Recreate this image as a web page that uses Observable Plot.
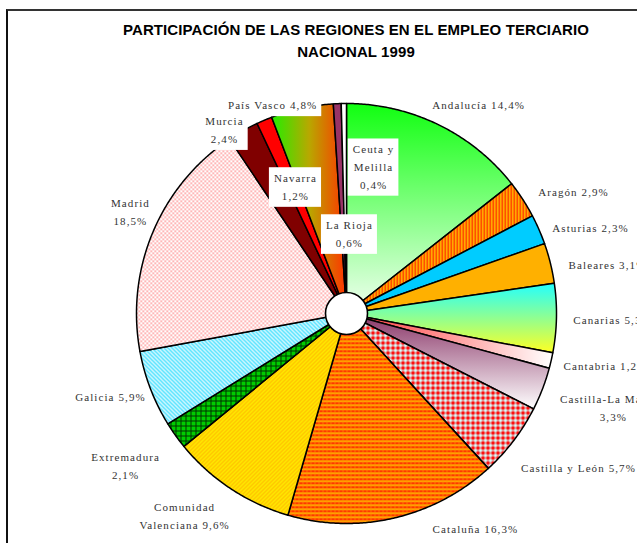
<!DOCTYPE html>
<html><head><meta charset="utf-8">
<script src="https://cdn.jsdelivr.net/npm/d3@7"></script>
<script src="https://cdn.jsdelivr.net/npm/@observablehq/plot@0.6"></script>
<style>
body{margin:0;background:#fff;}
#wrap{position:relative;width:637px;height:543px;overflow:hidden;background:#fff;}
#frame{position:absolute;left:6px;top:9px;width:640px;height:600px;border-top:2px solid #333;border-left:2px solid #111;}
#chart{position:absolute;left:0;top:0;}
#title{position:absolute;left:0;top:19px;width:712px;text-align:center;font:bold 15px "Liberation Sans",Arial,sans-serif;letter-spacing:0.1px;line-height:22px;color:#000;}
#chart svg text{letter-spacing:1.1px;}
</style></head>
<body>
<div id="wrap"><div id="frame"></div><div id="chart"></div>
<div id="title">PARTICIPACIÓN DE LAS REGIONES EN EL EMPLEO TERCIARIO<br>NACIONAL 1999</div></div>
<script>
// ---- data ----
const regions = ["Andalucía","Aragón","Asturias","Baleares","Canarias","Cantabria","Castilla-La Mancha","Castilla y León","Cataluña","Comunidad Valenciana","Extremadura","Galicia","Madrid","Murcia","Navarra","País Vasco","La Rioja","Ceuta y Melilla"];
const shares = [14.4,2.9,2.3,3.1,5.3,1.2,3.3,5.7,16.3,9.6,2.1,5.9,18.5,2.4,1.2,4.8,0.6,0.4];
const labelNames = ["Andalucía","Aragón","Asturias","Baleares","Canarias","Cantabria","Castilla-La Mancha","Castilla y León","Cataluña","Comunidad\nValenciana","Extremadura","Galicia","Madrid","Murcia","Navarra","País Vasco","La Rioja","Ceuta y\nMelilla"];

// ---- layout (label anchors in pie-radius units, line break mode, white box) ----
const labelPos = [[0.629,1.0],[1.081,0.586],[1.162,0.414],[1.243,0.238],[1.267,-0.024],[1.233,-0.243],[1.271,-0.443],[1.105,-0.729],[0.614,-1.019],[-0.771,-0.957],[-1.052,-0.719],[-1.124,-0.390],[-1.029,0.490],[-0.581,0.881],[-0.243,0.610],[-0.352,1.0],[0.014,0.386],[0.129,0.705]];
const labelSep = [" "," "," "," "," "," ","\n"," "," "," ","\n"," ","\n","\n","\n"," ","\n","\n"];
const boxed = new Set([13,14,15,16,17]);
const fills = ["url(#g0)","url(#p1)","#00ccff","url(#p3)","url(#g4)","url(#g5)","url(#g6)","url(#p7)","url(#p8)","url(#p9)","url(#p10)","url(#p11)","url(#p12)","#800000","#ff0000","url(#g15)","#993366","#ffffff"];

const fmt = v => v.toFixed(1).replace(".", ",") + "%";
const pie = d3.pie().sort(null).value(d => d)(shares);
const slicePts = [];
pie.forEach((s, i) => {
  const n = Math.max(4, Math.ceil((s.endAngle - s.startAngle) / 0.008));
  slicePts.push({i, x: 0, y: 0});
  for (let k = 0; k <= n; k++) {
    const a = s.startAngle + (s.endAngle - s.startAngle) * k / n;
    slicePts.push({i, x: Math.sin(a), y: Math.cos(a)});
  }
  slicePts.push({i, x: 0, y: 0});
});
const labels = regions.map((r, i) => ({
  text: labelNames[i] + labelSep[i] + fmt(shares[i]),
  x: labelPos[i][0], y: labelPos[i][1], boxed: boxed.has(i)
}));
const textOpts = {x: "x", y: "y", text: "text", fontFamily: "Liberation Serif", fontSize: 11, fill: "#333", lineHeight: 1.6};

const svg = Plot.plot({
  width: 637, height: 543,
  marginTop: 0, marginRight: 0, marginBottom: 0, marginLeft: 0,
  x: {domain: [-1, 1], range: [136, 556], axis: null},
  y: {domain: [-1, 1], range: [523, 103], axis: null},
  marks: [
    ...regions.map((r, i) => Plot.line(slicePts.filter(p => p.i === i), {x: "x", y: "y", fill: fills[i], stroke: "#000", strokeWidth: 1.5, strokeLinejoin: "round"})),
    Plot.dot([{x: 0, y: 0}], {x: "x", y: "y", r: 21, fill: "#fff", stroke: "#000", strokeWidth: 1.6}),
    Plot.text(labels.filter(d => !d.boxed), textOpts),
    Plot.text(labels.filter(d => d.boxed), textOpts)
  ]
});
svg.style.background = "transparent";
document.getElementById("chart").appendChild(svg);

// ---- fills: gradients & patterns ----
const ns = "http://www.w3.org/2000/svg";
const defs = document.createElementNS(ns, "defs");
defs.innerHTML = `
<linearGradient id="g0" x1="0" y1="0" x2="0" y2="1"><stop offset="0" stop-color="#11ff11"/><stop offset="1" stop-color="#f2fff2"/></linearGradient>
<linearGradient id="g4" x1="0" y1="0" x2="0" y2="1"><stop offset="0" stop-color="#22ffff"/><stop offset="1" stop-color="#ffff22"/></linearGradient>
<linearGradient id="g5" x1="0" y1="0" x2="1" y2="0"><stop offset="0" stop-color="#ff3333"/><stop offset="1" stop-color="#ffffff"/></linearGradient>
<linearGradient id="g6" x1="0" y1="0" x2="0" y2="1"><stop offset="0" stop-color="#883366"/><stop offset="1" stop-color="#ffffff"/></linearGradient>
<linearGradient id="g15" x1="0" y1="0" x2="1" y2="0"><stop offset="0" stop-color="#22ee00"/><stop offset="0.5" stop-color="#b8a800"/><stop offset="1" stop-color="#ff3300"/></linearGradient>
<pattern id="p1" width="3" height="3" patternUnits="userSpaceOnUse"><rect width="3" height="3" fill="#ffd700"/><rect width="1.5" height="3" fill="#ff2200"/></pattern>
<pattern id="p3" width="2" height="2" patternUnits="userSpaceOnUse"><rect width="2" height="2" fill="#ffd000"/><rect width="1" height="1" fill="#ff9000"/><rect x="1" y="1" width="1" height="1" fill="#ff9000"/></pattern>
<pattern id="p7" width="5" height="5" patternUnits="userSpaceOnUse"><rect width="5" height="5" fill="#d4ffff"/><rect x="1.5" y="0.5" width="2" height="4" fill="#ff0000"/><rect x="0.5" y="1.5" width="4" height="2" fill="#ff0000"/></pattern>
<pattern id="p8" width="4" height="4" patternUnits="userSpaceOnUse"><rect width="4" height="4" fill="#ff3800"/><rect width="4" height="1.4" fill="#ffd000"/><rect x="2" width="0.7" height="4" fill="#ff9000"/></pattern>
<pattern id="p9" width="4" height="4" patternUnits="userSpaceOnUse"><rect width="4" height="4" fill="#ffe600"/><path d="M-1,1 l2,-2 M0,4 l4,-4 M3,5 l2,-2" stroke="#ff9900" stroke-width="0.8"/></pattern>
<pattern id="p10" width="5" height="5" patternUnits="userSpaceOnUse"><rect width="5" height="5" fill="#00cc00"/><path d="M0,0.5h5 M0.5,0v5" stroke="#003300" stroke-width="1"/></pattern>
<pattern id="p11" width="4" height="4" patternUnits="userSpaceOnUse"><rect width="4" height="4" fill="#ffffff"/><path d="M-1,-1 l6,6 M-1,3 l2,2 M3,-1 l2,2" stroke="#33ddff" stroke-width="1.5"/></pattern>
<pattern id="p12" width="4" height="4" patternUnits="userSpaceOnUse"><rect width="4" height="4" fill="#ffffff"/><rect width="1.5" height="1.5" fill="#ff8080"/><rect x="2" y="2" width="1.5" height="1.5" fill="#ff8080"/></pattern>`;
svg.insertBefore(defs, svg.firstChild);

// ---- white boxes behind labels that overlap the pie ----
const textGroups = svg.querySelectorAll('g[aria-label="text"]');
const boxedGroup = textGroups[textGroups.length - 1];
boxedGroup.querySelectorAll("text").forEach(t => {
  const b = t.getBBox();
  const rect = document.createElementNS(ns, "rect");
  rect.setAttribute("x", b.x - 5);
  rect.setAttribute("y", b.y - 5);
  rect.setAttribute("width", b.width + 9);
  rect.setAttribute("height", b.height + 10);
  rect.setAttribute("fill", "#fff");
  if (t.getAttribute("transform")) rect.setAttribute("transform", t.getAttribute("transform"));
  t.parentNode.insertBefore(rect, t);
});
</script>
</body></html>
